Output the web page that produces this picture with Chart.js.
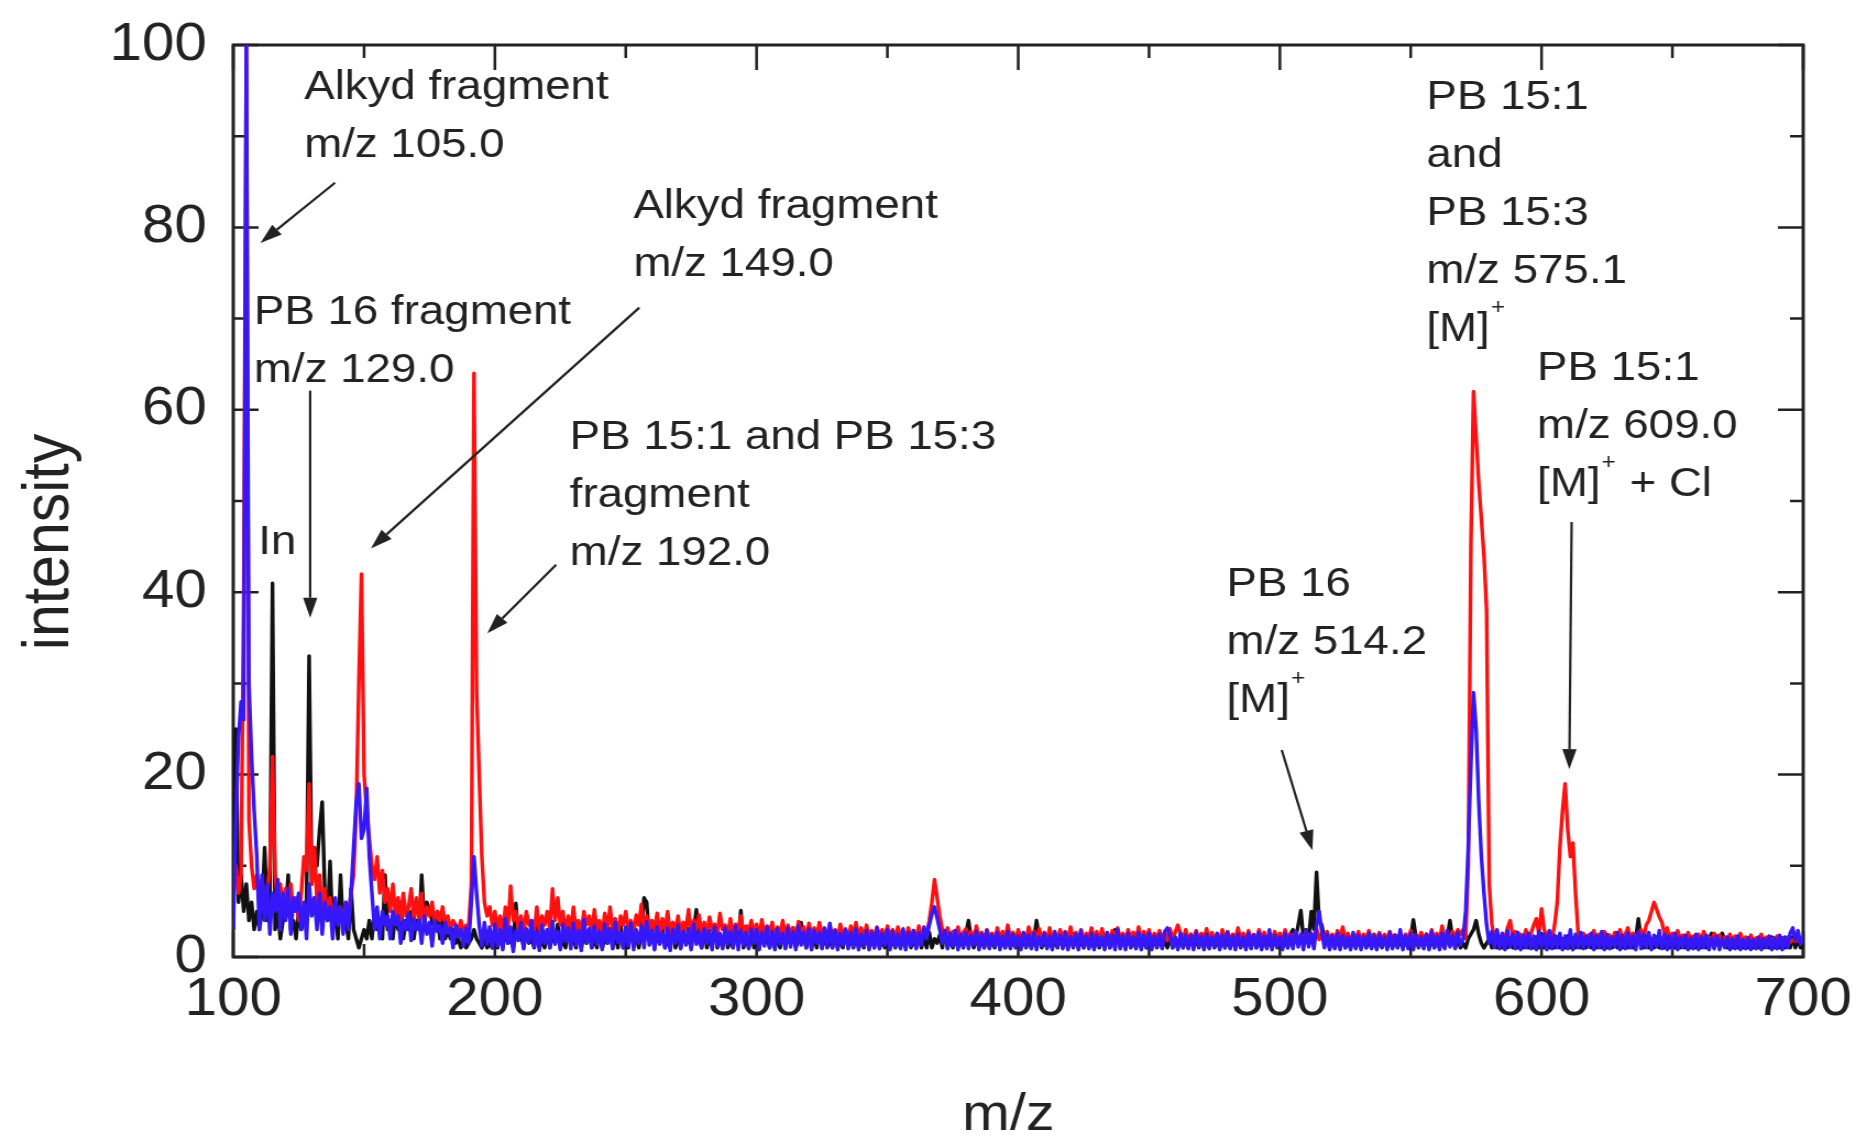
<!DOCTYPE html>
<html>
<head>
<meta charset="utf-8">
<script src="https://cdn.jsdelivr.net/npm/chart.js@4.4.1/dist/chart.umd.min.js"></script>
<style>
  html, body { margin: 0; padding: 0; background: #fff; }
</style>
</head>
<body>
<!-- the original figure is stretched ~1.1x horizontally, so the canvas is drawn narrower and scaled by css -->
<canvas id="spectrum" width="1687" height="1141" style="width:1856px;height:1141px;display:block"></canvas>
<script>

/*
    ToF-SIMS spectrum, m/z 100 - 700, one intensity value per m/z unit
*/

var mzStart = 100;
var mzStep = 1;

var blueIntensity = [
    3, 15, 24, 28, 26, 100, 30, 22, 16, 11,
    3, 9, 4, 8, 2.5, 7, 5, 8.5, 3, 7,
    4, 7.5, 2.5, 6.5, 5, 7, 3, 6, 2, 8,
    4.5, 6.5, 3, 7, 2.5, 6, 4, 5.5, 2, 6.5,
    3.5, 5.5, 2.5, 6, 3, 7, 12, 17, 19, 13,
    14, 18.5, 11, 7, 3, 5.5, 2, 5, 3.5, 4.5,
    2, 5, 3.5, 4.5, 1.5, 4, 3, 4.8, 1.8, 4.2,
    3, 4, 1.5, 4.5, 2.5, 3.8, 1.2, 4, 2.8, 3.5,
    1.5, 3.8, 2.6, 3.2, 1, 3.5, 2.2, 3, 1.2, 3.2,
    1.5, 6, 11, 7, 3.5, 1.2, 3.8, 1.4, 3.3, 1,
    3.6, 1.2, 3, 0.8, 4.2, 1.5, 3.3, 0.6, 2.9, 1.8,
    3.8, 0.9, 3.1, 1.6, 4, 1.1, 2.8, 0.7, 3.5, 1.5,
    3, 1, 3.9, 1.4, 2.8, 0.8, 3.6, 1.7, 3.2, 0.9,
    3.7, 1.3, 2.9, 0.7, 4.1, 1.6, 3.1, 1, 3.4, 1.4,
    2.8, 0.8, 3.6, 1.5, 3.1, 0.9, 3.8, 1.6, 2.7, 1,
    3.3, 1.2, 3.7, 0.8, 3, 1.5, 3.4, 1, 3.9, 1.3,
    2.9, 0.8, 3.3, 1.4, 2.7, 1, 3.2, 0.7, 3, 1.5,
    3.5, 0.9, 2.8, 1.3, 3.1, 0.8, 3.6, 1.4, 2.7, 1,
    3.1, 1.5, 2.9, 0.8, 3.3, 1.2, 2.6, 0.9, 3.2, 1.4,
    2.8, 1, 3.4, 0.8, 2.9, 1.3, 2.7, 0.9, 3.1, 1.5,
    3, 0.8, 2.7, 1.2, 3.3, 1, 2.8, 0.8, 3.1, 1.4,
    2.6, 0.9, 3.2, 1.1, 2.8, 0.8, 3.4, 1.3, 2.7, 1,
    3.1, 0.8, 2.9, 1.5, 2.7, 0.9, 3.2, 1.1, 3.7, 1,
    2.9, 0.8, 2.6, 1.3, 3, 0.9, 2.7, 1.1, 3.1, 0.8,
    2.5, 1.2, 2.9, 0.8, 2.7, 1, 3.2, 0.9, 2.6, 1.3,
    3, 0.8, 2.8, 1.1, 2.5, 0.9, 3.1, 0.8, 2.7, 1.2,
    2.9, 0.9, 2.6, 1.3, 3.3, 2, 3.5, 4.7, 5.5, 4.3,
    3, 1.5, 2.9, 0.9, 2.6, 1.2, 2.9, 0.8, 2.5, 1.1,
    2.7, 0.9, 2.4, 1.3, 2.8, 0.8, 2.5, 1, 2.9, 0.9,
    2.4, 1.2, 2.7, 0.8, 2.3, 1, 2.8, 0.9, 2.5, 1.1,
    2.3, 0.8, 2.7, 1.1, 2.4, 0.9, 2.6, 0.8, 2.2, 1.2,
    2.6, 0.9, 2.3, 0.8, 2.8, 1.1, 2.4, 0.9, 2.7, 0.8,
    2.2, 1.1, 2.5, 0.8, 2.9, 1, 2.3, 0.9, 2.6, 0.8,
    2.4, 1.2, 2.2, 0.8, 2.7, 1, 2.4, 0.8, 3, 0.9,
    2.3, 0.8, 2.6, 1.1, 2.2, 0.9, 2.7, 0.8, 2.4, 1,
    2.6, 0.8, 2.3, 1.1, 2.5, 0.9, 2.8, 3.2, 2.4, 1,
    2.2, 0.8, 2.6, 1, 2.4, 0.9, 2.3, 0.8, 2.7, 1.1,
    2.3, 0.8, 2.5, 0.9, 2.2, 1.1, 2.6, 0.8, 2.4, 1,
    2.7, 0.9, 2.3, 0.8, 2.5, 1.1, 2.2, 0.8, 2.6, 0.9,
    2.4, 1, 2.7, 0.8, 2.3, 0.9, 3, 0.8, 2.4, 1.1,
    2.2, 0.8, 2.6, 1, 2.4, 0.9, 2.8, 1.1, 2.5, 0.8,
    2.9, 1.1, 2.6, 0.9, 3.4, 5, 2.8, 1, 2.5, 0.8,
    2.3, 0.9, 2.6, 0.8, 2.4, 1, 2.2, 0.8, 2.7, 0.9,
    2.4, 0.8, 2.2, 1, 2.6, 0.9, 2.3, 0.8, 2.5, 1.1,
    2.2, 0.8, 2.7, 0.9, 2.4, 1, 3, 0.8, 2.3, 0.9,
    2.6, 0.8, 2.4, 1.1, 2.2, 0.9, 2.5, 0.8, 2.8, 1,
    2.3, 0.8, 2.6, 0.9, 2.9, 1.1, 2.4, 0.9, 2.7, 1.3,
    2, 5, 12, 21, 29, 25, 17, 11, 7, 3.5,
    1.5, 2.8, 1, 3, 0.9, 2.6, 0.8, 2.9, 1.1, 2.5,
    0.9, 2.7, 0.8, 2.4, 1, 2.6, 0.9, 2.3, 0.8, 2.8,
    1.1, 2.5, 0.8, 2.9, 0.9, 2.4, 1, 2.6, 0.8, 2.3,
    0.9, 3, 0.8, 2.5, 1, 2.7, 0.9, 2.3, 1.1, 2.6,
    0.8, 2.4, 1, 2.8, 0.8, 2.5, 0.9, 2.2, 1.1, 2.7,
    0.8, 2.4, 0.9, 2.6, 1, 2.3, 0.8, 2.8, 0.9, 2.5,
    1, 2.7, 0.8, 2.4, 1.1, 2.9, 0.9, 2.5, 0.8, 2.3,
    0.9, 2.6, 0.8, 2.2, 1, 2.4, 0.8, 2.1, 0.9, 2.5,
    0.8, 2.2, 1, 2.4, 0.8, 2.1, 0.9, 2.3, 0.8, 2,
    1, 2.2, 0.8, 2, 0.9, 2.3, 0.8, 1.9, 0.9, 2.1,
    0.8, 1.9, 0.9, 2.2, 0.8, 2, 1, 2.3, 0.8, 2.1,
    0.9, 2.4, 0.8, 2.2, 1, 2.6, 3.2, 1.8, 2.9, 1.4,
    2.2
];

var redIntensity = [
    8, 10, 7, 9, 40, 100, 15, 10, 7.5, 9,
    6, 8.5, 5, 7, 10, 22, 9, 6, 8, 5.5,
    7.5, 4.5, 8, 5, 6.5, 4, 7, 11, 9.5, 19,
    8, 12, 6, 9, 5, 7.5, 4.5, 6.5, 3.5, 6,
    4, 5.5, 3.5, 6, 4.5, 7, 9, 16, 30, 42,
    20, 16, 13, 10, 8.5, 11, 7, 9.5, 6, 7.5,
    5, 8, 4.5, 6.5, 4, 7, 4.5, 5.5, 7.5, 4,
    6.5, 4, 7, 3.5, 5.5, 4.5, 6, 3.5, 5, 4,
    5.5, 3.5, 4.5, 3, 4, 3.5, 3, 4, 2.5, 3.5,
    3.5, 8, 64, 29, 20, 11, 6, 4.5, 5.5, 3.5,
    5, 3, 4.5, 2.5, 5.5, 3, 7.8, 4, 5, 3,
    4.5, 2.5, 5, 3.5, 4, 2.5, 5.5, 3, 4.5, 3.5,
    5, 3, 7.5, 4, 6.5, 3.5, 5, 2.5, 4.5, 3,
    5.5, 3, 4, 2.5, 5, 3.5, 4.5, 2.5, 5.2, 3,
    4, 2.5, 4.8, 3, 5.5, 3, 4.2, 2.5, 4.5, 3.5,
    5, 3, 4, 2.5, 4.6, 3.5, 5.8, 3, 4.5, 2.5,
    4, 3, 4.8, 2.5, 4.2, 3, 5, 2.5, 3.8, 3,
    4.5, 2.5, 3.8, 3, 5.2, 2.5, 4, 3, 4.6, 2.5,
    3.8, 2.5, 4.4, 3, 3.6, 2.5, 4.8, 3, 3.5, 2.5,
    4.2, 2.5, 3.6, 3, 4.5, 2.5, 3.4, 2.8, 4, 2.5,
    3.6, 2.2, 4.1, 2.5, 3.4, 2.8, 3.8, 2.2, 3.3, 2.5,
    4, 2.2, 3.5, 2.6, 3.2, 2.2, 3.9, 2.4, 3.3, 2,
    3.7, 2.4, 3.2, 2.2, 3.8, 2.6, 3.1, 2, 3.5, 2.4,
    3, 2.1, 3.6, 2.4, 3.1, 2, 3.4, 2.3, 3.8, 2.1,
    3.2, 2, 3.5, 2.3, 2.9, 2.1, 3.3, 2.4, 3, 2,
    3.4, 2.2, 3, 1.9, 3.3, 2.3, 2.8, 2, 3.2, 2.2,
    2.9, 2, 3.4, 2.2, 3, 2.5, 4, 6, 8.5, 6.5,
    4.5, 3, 2.2, 3.2, 2, 2.8, 2.1, 3.3, 1.9, 2.7,
    3.1, 2, 2.8, 1.8, 3.4, 2.1, 2.7, 1.9, 3, 2.2,
    2.6, 1.8, 3.2, 2, 2.8, 1.9, 3.5, 2.1, 2.7, 1.8,
    3, 2, 2.6, 1.9, 3.3, 2.1, 2.8, 1.8, 3.1, 2,
    2.7, 1.8, 3.2, 2, 2.6, 1.9, 3, 2.2, 2.8, 1.8,
    3.3, 1.9, 2.7, 2, 3, 1.8, 2.6, 2.1, 3.2, 1.9,
    2.8, 1.8, 3.1, 2, 2.6, 1.9, 2.9, 1.8, 3.2, 2,
    2.6, 1.8, 3, 2.1, 2.7, 1.9, 3.3, 1.8, 2.8, 2,
    3, 1.8, 2.6, 2, 2.9, 1.9, 2.7, 1.8, 3.1, 2,
    2.7, 3.5, 2.6, 1.9, 3, 1.8, 2.5, 2, 2.9, 1.8,
    2.6, 2, 3.1, 1.8, 2.7, 1.9, 2.5, 1.8, 3, 2,
    2.8, 1.8, 2.5, 2, 3.2, 1.9, 2.6, 1.8, 2.9, 1.9,
    2.5, 1.8, 3, 2, 2.7, 1.9, 2.4, 1.8, 2.8, 2,
    2.6, 1.8, 3, 1.9, 2.5, 2, 2.8, 1.8, 2.4, 1.9,
    2.9, 1.8, 2.5, 2, 3.1, 1.9, 2.6, 1.8, 2.8, 2,
    2.5, 1.8, 2.9, 2, 3.3, 1.9, 2.6, 1.8, 2.4, 2,
    2.8, 1.8, 2.5, 1.9, 2.9, 2, 2.4, 1.8, 2.7, 1.9,
    2.5, 1.8, 2.8, 2, 2.4, 1.9, 2.7, 1.8, 2.5, 2,
    2.9, 1.8, 2.4, 1.9, 2.7, 2, 2.5, 1.8, 3, 1.9,
    2.6, 1.8, 3.4, 2, 2.5, 1.9, 2.8, 2.2, 3, 2.5,
    3, 2, 10, 45, 62, 57, 52, 48, 44, 38,
    8, 3.6, 2, 2.8, 1.8, 2.5, 2, 3.2, 4, 2.2,
    2.8, 1.9, 2.5, 1.8, 3, 2, 2.6, 3.5, 4.2, 2.5,
    5.3, 3, 2.2, 2.8, 2, 3.5, 6, 12, 16, 19,
    14, 11, 12.5, 7, 2.5, 2, 2.6, 1.8, 2.4, 2,
    2.9, 1.8, 2.5, 2, 2.8, 1.9, 2.4, 1.8, 2.7, 2,
    3, 1.9, 2.5, 3.2, 2, 2.6, 1.8, 2.4, 3, 2,
    3.5, 4, 5, 6, 5.2, 4.4, 3.8, 2.5, 3.2, 2,
    2.6, 1.8, 2.9, 2, 2.4, 1.8, 2.7, 1.9, 2.3, 1.8,
    2.5, 1.8, 2.8, 2, 2.2, 1.8, 2.6, 1.9, 2.4, 1.7,
    2.2, 1.8, 2.5, 1.7, 2.3, 1.9, 2.6, 1.7, 2.2, 1.8,
    2.4, 1.7, 2.1, 1.8, 2.5, 1.7, 2.2, 1.6, 2, 1.8,
    2.3, 1.6, 2, 1.7, 2.2, 1.6, 1.9, 1.7, 2.1, 1.6,
    1.8
];

var blackIntensity = [
    3, 25, 6, 9, 5, 8, 4, 6, 3, 5,
    3, 5, 12, 4, 6, 41, 3, 5, 2, 4,
    5, 9, 3, 4, 2, 5, 3, 4, 6, 33,
    8, 12, 10, 14, 17, 7, 4, 10.5, 3, 5,
    2, 9, 3, 4, 2, 7.5, 3, 2, 1, 2,
    3, 2, 4, 2, 5, 3, 4, 2, 9, 3,
    4, 2, 5, 3, 6, 2, 4, 3, 5, 2,
    4, 3, 9, 4, 6, 5, 4, 3, 5, 2,
    4, 2, 3, 2, 3, 1.5, 2, 1, 2, 1,
    1.5, 2, 3, 2, 1.5, 1, 2, 1, 1.5, 1,
    2, 1, 2.5, 1, 3, 1.5, 2, 1, 5.9, 2,
    2.5, 1, 3, 1.5, 2, 1, 3.5, 1, 2, 1,
    3, 1, 2.5, 1.5, 3.6, 1, 2, 1, 3, 1.5,
    2, 1, 3.2, 1, 2.5, 1.5, 3, 1, 2, 1,
    3.4, 1, 2, 1.5, 3, 1, 2.5, 1, 3.8, 1,
    2, 1, 3, 1.5, 2.2, 1, 2.8, 6.5, 6, 2,
    3, 1, 2.5, 1.5, 3.2, 1, 2, 1, 3.6, 1,
    2.4, 1, 3.2, 1.5, 2, 1, 3, 5.2, 2, 1,
    3, 1, 2.2, 1.5, 3.4, 1, 2.4, 1, 3, 1,
    2, 1, 3.2, 1.5, 5.1, 1, 2.2, 1, 3, 1,
    2.6, 1, 3, 1.5, 2.2, 1, 2.8, 1, 2.2, 1,
    3, 1, 2.4, 1.5, 3.2, 1, 2, 3.8, 2.2, 1,
    2.8, 1, 2.2, 1, 3, 1, 2.4, 1, 2, 1,
    2.6, 1, 2, 1, 2.8, 1, 2.2, 1, 2.5, 1,
    2, 1, 2.7, 1, 2.2, 1, 2.9, 1, 2, 1,
    2.4, 1, 2, 1, 2.6, 1, 2.2, 1, 2.8, 1,
    2, 1, 2.5, 1, 2.2, 1, 2.7, 1, 2, 1.5,
    2.4, 1, 2.9, 1, 2.2, 1, 2.4, 1, 2, 1,
    2.6, 4, 2, 1, 2.3, 1, 2, 1, 2.5, 1,
    2, 1, 2.4, 1, 2, 1, 2.6, 1, 2.1, 1,
    2.3, 1, 2, 1, 2.4, 1, 2, 4, 2.2, 1,
    2, 1, 2.3, 1, 2, 1, 2.5, 1, 2, 1,
    3, 1, 2.2, 1, 2, 1, 2.4, 1, 2, 1,
    2.3, 1, 2, 1, 2.5, 1, 2, 3, 2.2, 1,
    2, 1, 2.4, 1, 2.1, 1, 2.3, 1, 2, 1,
    2.2, 1, 2, 1, 2.4, 1, 2, 1, 2.3, 1,
    2, 1, 2.2, 1, 2, 1, 2.5, 1, 2.1, 1,
    2.3, 1, 2, 1, 2.2, 1, 2, 1, 2.4, 1,
    2, 1, 2.3, 1, 2.1, 1, 2, 1, 2.2, 1,
    2.4, 1, 2, 1, 2.3, 1, 2, 1, 2.1, 1,
    2, 1, 2.2, 1, 2.5, 3, 2, 3.5, 5.1, 2,
    3, 2, 5, 3, 9.3, 4, 3.5, 2, 2.5, 1,
    2.2, 1, 2, 1, 2.4, 1, 2, 1, 2.2, 1,
    2, 1, 2.3, 1, 2, 1, 2.5, 1, 2, 1,
    2.2, 1, 2, 1, 2.4, 1, 2, 1, 2.3, 1,
    2, 4.1, 2.2, 1, 2, 1, 2.5, 1, 2, 1,
    2.3, 1, 2, 1, 2.2, 4, 2, 1, 2, 1,
    1.5, 1, 2, 2.5, 3, 4, 2.5, 1.5, 1, 1.5,
    2, 1, 2.2, 1, 2, 1, 2.4, 1, 2, 1,
    2.2, 1, 2, 1, 2.3, 1, 2, 1, 2.2, 1,
    2, 1, 2.4, 1, 2, 1, 2.2, 1, 2, 1,
    2.3, 1, 2, 1, 2.2, 1, 2, 1, 2.4, 1,
    2, 1, 2.2, 1, 2, 1, 2.3, 1, 2, 1,
    2.2, 1, 2, 1, 2.4, 1, 2, 4.2, 2, 1,
    2.3, 1, 2, 1, 2.2, 1, 2, 1, 2.4, 1,
    2, 1, 2.2, 1, 2, 1, 2.3, 1, 2, 1,
    2.2, 1, 2, 1, 2, 2.6, 1, 2, 1, 2.6,
    2, 1, 2.2, 1, 2, 1, 2.1, 1, 2, 1,
    2.2, 1, 2, 1, 2.1, 1, 2, 1, 2.2, 1,
    2, 1, 2.1, 1, 2, 1, 2.2, 1, 2, 1,
    1.5
];

// peak annotations, anchored in data units (m/z, intensity of first text line)
var peakLabels = [
    { mz: 127.1, at: 95.3, lines: ['Alkyd fragment', 'm/z 105.0'] },
    { mz: 252.9, at: 82.3, lines: ['Alkyd fragment', 'm/z 149.0'] },
    { mz: 107.9, at: 70.7, lines: ['PB 16 fragment', 'm/z 129.0'] },
    { mz: 228.6, at: 57.0, lines: ['PB 15:1 and PB 15:3', 'fragment', 'm/z 192.0'] },
    { mz: 109.6, at: 45.4, lines: ['In'] },
    { mz: 479.6, at: 40.8, lines: ['PB 16', 'm/z 514.2', '[M]^+'] },
    { mz: 556.0, at: 94.2, lines: ['PB 15:1', 'and', 'PB 15:3', 'm/z 575.1', '[M]^+'] },
    { mz: 598.3, at: 64.5, lines: ['PB 15:1', 'm/z 609.0', '[M]^+ + Cl'] }
];

var peakArrows = [
    { from: [138.9, 84.9], to: [110.4, 78.3] },
    { from: [255.2, 71.2], to: [152.6, 44.8] },
    { from: [129.4, 62.1], to: [129.4, 37.2] },
    { from: [223.4, 43.0], to: [197.1, 35.5] },
    { from: [500.7, 22.7], to: [512.4, 11.7] },
    { from: [611.5, 47.7], to: [610.6, 20.6] }
];

var FONT = "'Liberation Sans', Arial, Helvetica, sans-serif";
var INK = '#222';
var LABEL_SIZE = 41.5;

function toPoints(values){
    var pts = [];
    for(var i = 0; i < values.length; i++){
        pts.push({ x: mzStart + i * mzStep, y: values[i] });
    }
    return pts;
}

// text line with "^x" meaning superscript x
function drawRichLine(ctx, text, x, y){
    var parts = text.split('^');
    var cx = x;
    ctx.font = LABEL_SIZE + 'px ' + FONT;
    ctx.fillText(parts[0], cx, y);
    cx += ctx.measureText(parts[0]).width;
    for(var i = 1; i < parts.length; i++){
        var sup = parts[i].charAt(0);
        var rest = parts[i].slice(1);
        ctx.font = '22px ' + FONT;
        ctx.fillText(sup, cx + 1, y - 22);
        cx += ctx.measureText(sup).width + 2;
        ctx.font = LABEL_SIZE + 'px ' + FONT;
        ctx.fillText(rest, cx, y);
        cx += ctx.measureText(rest).width;
    }
}

function drawArrow(ctx, x1, y1, x2, y2){
    var ang = Math.atan2(y2 - y1, x2 - x1);
    var head = 20;
    var half = 6.5;
    var bx = x2 - head * Math.cos(ang);
    var by = y2 - head * Math.sin(ang);
    ctx.beginPath();
    ctx.moveTo(x1, y1);
    ctx.lineTo(bx, by);
    ctx.stroke();
    ctx.beginPath();
    ctx.moveTo(x2, y2);
    ctx.lineTo(bx + half * Math.sin(ang), by - half * Math.cos(ang));
    ctx.lineTo(bx - half * Math.sin(ang), by + half * Math.cos(ang));
    ctx.closePath();
    ctx.fill();
}

var spectrumFrame = {
    id: 'spectrumFrame',
    beforeDatasetsDraw: function(chart){
        var ctx = chart.ctx;
        var area = chart.chartArea;
        var xs = chart.scales.x;
        var ys = chart.scales.y;
        ctx.save();
        ctx.strokeStyle = INK;
        ctx.lineWidth = 3;
        ctx.strokeRect(area.left, area.top, area.right - area.left, area.bottom - area.top);

        // inward ticks on all four sides
        ctx.lineWidth = 2.5;
        ctx.beginPath();
        for(var v = xs.min; v <= xs.max; v += 50){
            var px = xs.getPixelForValue(v);
            var len = (v % 100 === 0) ? 25 : 13;
            ctx.moveTo(px, area.bottom);
            ctx.lineTo(px, area.bottom - len);
            ctx.moveTo(px, area.top);
            ctx.lineTo(px, area.top + len);
        }
        for(var w = ys.min; w <= ys.max; w += 10){
            var py = ys.getPixelForValue(w);
            var len2 = (w % 20 === 0) ? 23 : 12;
            ctx.moveTo(area.left, py);
            ctx.lineTo(area.left + len2, py);
            ctx.moveTo(area.right, py);
            ctx.lineTo(area.right - len2, py);
        }
        ctx.stroke();
        ctx.restore();
    },
    afterDatasetsDraw: function(chart){
        var ctx = chart.ctx;
        var area = chart.chartArea;
        var xs = chart.scales.x;
        var ys = chart.scales.y;
        ctx.save();
        ctx.fillStyle = INK;
        ctx.strokeStyle = INK;
        ctx.lineWidth = 2.2;

        for(var a = 0; a < peakArrows.length; a++){
            var ar = peakArrows[a];
            drawArrow(ctx,
                xs.getPixelForValue(ar.from[0]), ys.getPixelForValue(ar.from[1]),
                xs.getPixelForValue(ar.to[0]), ys.getPixelForValue(ar.to[1]));
        }

        ctx.textAlign = 'left';
        ctx.textBaseline = 'middle';
        for(var i = 0; i < peakLabels.length; i++){
            var lab = peakLabels[i];
            var lx = xs.getPixelForValue(lab.mz);
            var ly = ys.getPixelForValue(lab.at);
            for(var j = 0; j < lab.lines.length; j++){
                drawRichLine(ctx, lab.lines[j], lx, ly + j * 58);
            }
        }

        // axis titles
        ctx.textAlign = 'center';
        ctx.textBaseline = 'alphabetic';
        ctx.font = '52px ' + FONT;
        ctx.fillText('m/z', (area.left + area.right) / 2 - 9, area.bottom + 173);

        ctx.save();
        ctx.translate(area.left - 166, (area.top + area.bottom) / 2 + 41);
        ctx.rotate(-Math.PI / 2);
        ctx.textBaseline = 'middle';
        ctx.font = '59px ' + FONT;
        ctx.fillText('intensity', 0, 0);
        ctx.restore();

        ctx.restore();
    }
};

function drawSpectrum(chartID){
    var ctx = document.getElementById(chartID);

    var config = {
        type: 'line',
        data: {
            datasets: [
                {
                    label: 'blue',
                    data: toPoints(blueIntensity),
                    borderColor: 'rgb(52, 24, 250)',
                },
                {
                    label: 'red',
                    data: toPoints(redIntensity),
                    borderColor: 'rgb(255, 16, 16)',
                },
                {
                    label: 'black',
                    data: toPoints(blackIntensity),
                    borderColor: '#111',
                },
            ]
        },
        options: {
            responsive: false,
            animation: false,
            events: [],
            elements: {
                point: { radius: 0 },
                line: {
                    borderWidth: 3.4,
                    tension: 0,
                    borderJoinStyle: 'round',
                    fill: false
                }
            },
            layout: {
                padding: { top: 45, right: 48, left: 0, bottom: 0 }
            },
            plugins: {
                legend: { display: false },
                tooltip: { enabled: false }
            },
            scales: {
                x: {
                    type: 'linear',
                    min: 100,
                    max: 700,
                    afterFit: function(scale){
                        scale.height = 184;
                        scale.paddingLeft = 0;
                        scale.paddingRight = 0;
                    },
                    grid: { display: false, drawTicks: false },
                    border: { display: false },
                    ticks: {
                        stepSize: 100,
                        maxRotation: 0,
                        autoSkip: false,
                        padding: 12,
                        color: INK,
                        font: { family: FONT, size: 53 }
                    }
                },
                y: {
                    type: 'linear',
                    min: 0,
                    max: 100,
                    afterFit: function(scale){
                        scale.width = 212;
                        scale.paddingTop = 0;
                        scale.paddingBottom = 0;
                    },
                    grid: { display: false, drawTicks: false },
                    border: { display: false },
                    ticks: {
                        stepSize: 20,
                        padding: 24,
                        color: INK,
                        font: { family: FONT, size: 53 }
                    }
                }
            }
        },
        plugins: [spectrumFrame]
    };
    return new Chart(ctx, config);
}

drawSpectrum('spectrum');
</script>
</body>
</html>
